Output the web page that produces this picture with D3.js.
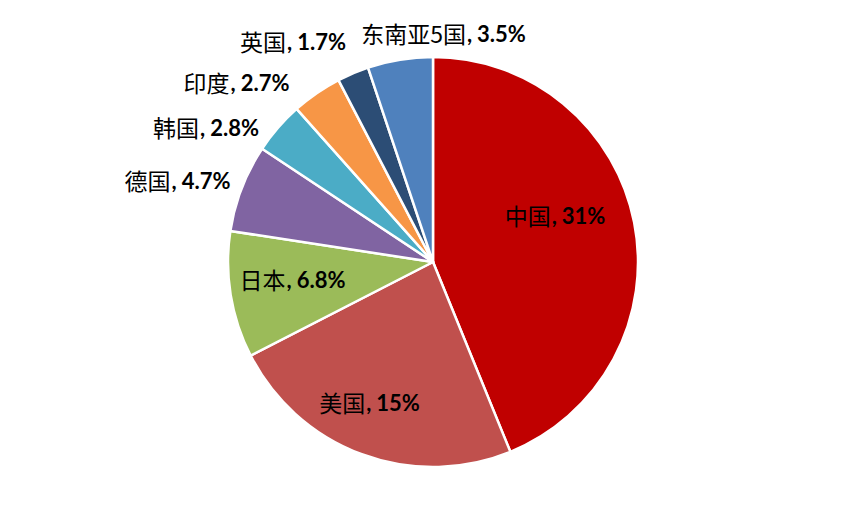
<!DOCTYPE html>
<html>
<head>
<meta charset="utf-8">
<script src="https://cdn.jsdelivr.net/npm/d3@7"></script>
<style>
  html, body { margin: 0; padding: 0; background: #ffffff; }
  svg { display: block; }
</style>
</head>
<body>
<svg id="chart" width="865" height="525"></svg>
<script>
// ---- data ----
const names = ["中国", "美国", "日本", "德国", "韩国", "印度", "英国", "东南亚5国"];
// slice sizes
const shares = [29.9, 16.1, 6.8, 4.7, 2.8, 2.7, 1.7, 3.5];
// value text printed in each label
const labelValues = ["31%", "15%", "6.8%", "4.7%", "2.8%", "2.7%", "1.7%", "3.5%"];
const colors = ["#C00000", "#C0504D", "#9BBB59", "#8064A2", "#4BACC6", "#F79646", "#2C4D75", "#4F81BD"];

// ---- layout: label centre offsets from the pie centre ----
const labelOffset = [[122, -47], [-63.5, 140], [-140.5, 17], [-255.5, -82], [-227, -135], [-196.5, -180], [-140, -221], [10.5, -229]];

const svg = d3.select("#chart");
const cx = 433, cy = 262, R = 205;
const g = svg.append("g").attr("transform", `translate(${cx},${cy})`);

const pie = d3.pie().sort(null).value(d => d.v).startAngle(0).endAngle(2 * Math.PI);
const data = names.map((n, i) => ({ name: n, v: shares[i], lab: labelValues[i], color: colors[i], i }));
const arcs = pie(data);
const arc = d3.arc().innerRadius(0).outerRadius(R);

g.selectAll("path.slice").data(arcs).join("path")
  .attr("class", "slice")
  .attr("d", arc)
  .attr("fill", d => d.data.color)
  .attr("stroke", "#ffffff")
  .attr("stroke-width", 2.5)
  .attr("stroke-linejoin", "round");

const labels = g.selectAll("text.lbl").data(arcs).join("text")
  .attr("class", "lbl")
  .attr("transform", d => {
    const [dx, dy] = labelOffset[d.data.i];
    return `translate(${dx},${dy})`;
  })
  .attr("text-anchor", "middle")
  .attr("dominant-baseline", "central")
  .attr("fill", "#000000");

labels.append("tspan")
  .attr("font-family", "'Noto Sans CJK SC', sans-serif")
  .attr("font-weight", 400)
  .attr("font-size", 23)
  .text(d => d.data.name);
labels.append("tspan")
  .attr("font-family", "Lato, 'Liberation Sans', sans-serif")
  .attr("font-weight", 700)
  .attr("font-size", 22)
  .attr("dx", 1)
  .text(",");
labels.append("tspan")
  .attr("font-family", "Lato, 'Liberation Sans', sans-serif")
  .attr("font-weight", 700)
  .attr("font-size", 22)
  .attr("dx", 5)
  .text(d => d.data.lab);
</script>
</body>
</html>
